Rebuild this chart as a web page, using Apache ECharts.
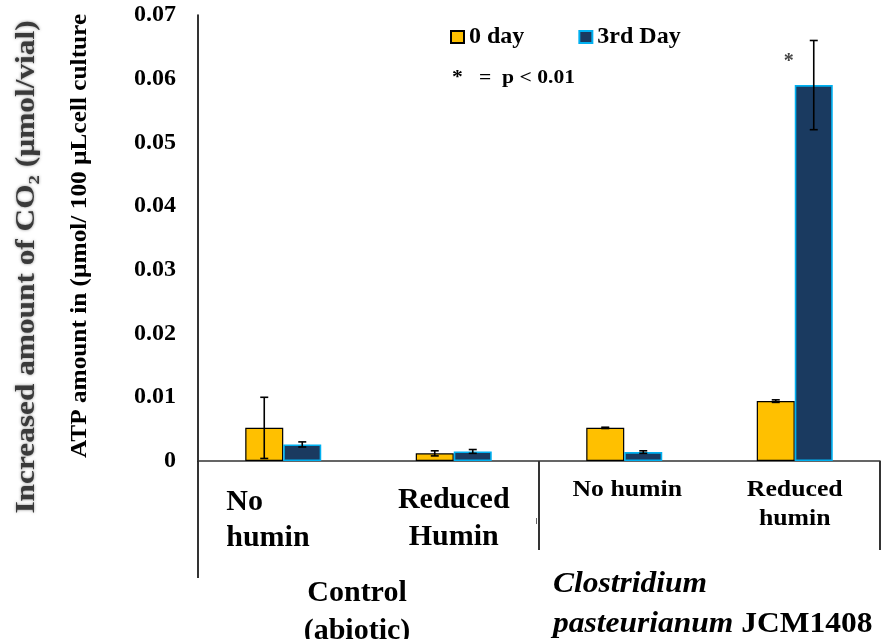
<!DOCTYPE html>
<html>
<head>
<meta charset="utf-8">
<script src="https://cdn.jsdelivr.net/npm/echarts@6/dist/echarts.min.js"></script>
<style>
  html, body { margin: 0; padding: 0; background: #ffffff; }
  #chart { width: 884px; height: 639px; }
</style>
</head>
<body>
<div id="chart"></div>
<script>
// Treatments along the x axis (two control, two inoculated)
const categories = ['No\nhumin', 'Reduced\nHumin', 'No humin', 'Reduced\nhumin'];
// Group captions beneath the treatment labels
const groupLabels = ['Control\n(abiotic)', '{i|Clostridium}\n{i|pasteurianum}{b| JCM1408}'];

// ATP amount (µmol / 100 µL cell culture)
const seriesNames = ['0 day', '3rd Day'];
const day0 = [0.0052, 0.0012, 0.0052, 0.0094];
const day0Err = [0.0048, 0.0004, 0.0001, 0.0002];
const day3 = [0.0026, 0.0015, 0.0014, 0.059];
const day3Err = [0.0004, 0.0003, 0.0002, 0.007];
const day3Sig = ['', '', '', '*'];

// Value axis ticks
const yTickLabels = ['0', '0.01', '0.02', '0.03', '0.04', '0.05', '0.06', '0.07'];

const SERIF = '"Liberation Serif", "Times New Roman", serif';
const BAR_W = 38;

const chart = echarts.init(document.getElementById('chart'), null, { renderer: 'canvas' });

function errorSeries(values, errs, marks, offsetSign) {
  return {
    type: 'custom',
    z: 5,
    silent: true,
    data: values.map((v, i) => [i, v, errs[i]]),
    renderItem: function (params, api) {
      const i = api.value(0);
      const v = api.value(1);
      const e = api.value(2);
      const hi = api.coord([i, v + e]);
      const lo = api.coord([i, Math.max(0, v - e)]);
      const x = hi[0] + offsetSign * BAR_W / 2;
      const cap = 4;
      const st = { stroke: '#000', lineWidth: 1.6 };
      const kids = [
        { type: 'line', shape: { x1: x, y1: hi[1], x2: x, y2: lo[1] }, style: st },
        { type: 'line', shape: { x1: x - cap, y1: hi[1], x2: x + cap, y2: hi[1] }, style: st },
        { type: 'line', shape: { x1: x - cap, y1: lo[1], x2: x + cap, y2: lo[1] }, style: st }
      ];
      const mark = marks ? marks[params.dataIndex] : '';
      if (mark) {
        kids.push({
          type: 'text',
          style: {
            x: x - 25, y: hi[1] + 21, text: mark,
            fill: '#444', font: 'bold 20px ' + SERIF,
            align: 'center', verticalAlign: 'middle'
          }
        });
      }
      return { type: 'group', children: kids };
    }
  };
}

chart.setOption({
  animation: false,
  backgroundColor: '#ffffff',
  grid: { left: 198, right: 4, top: 15, bottom: 178, containLabel: false },
  legend: {
    data: seriesNames,
    left: 450,
    top: 25,
    padding: 0,
    icon: 'rect',
    itemWidth: 13,
    itemHeight: 12,
    itemGap: 54,
    textStyle: { fontFamily: SERIF, fontWeight: 'bold', fontSize: 24, color: '#000' }
  },
  xAxis: {
    type: 'category',
    data: categories,
    axisLine: { lineStyle: { color: '#333', width: 1.6 } },
    axisTick: { show: false },
    axisLabel: { show: false },
    splitLine: { show: false }
  },
  yAxis: {
    type: 'value',
    min: 0,
    max: 0.07,
    interval: 0.01,
    axisLine: { show: true, lineStyle: { color: '#000', width: 1.6 } },
    axisTick: { show: false },
    splitLine: { show: false },
    axisLabel: {
      margin: 22,
      color: '#000',
      fontFamily: SERIF,
      fontWeight: 'bold',
      fontSize: 24,
      formatter: (v, idx) => yTickLabels[idx]
    }
  },
  series: [
    {
      name: seriesNames[0],
      type: 'bar',
      barWidth: BAR_W,
      barGap: '0%',
      data: day0,
      itemStyle: { color: '#FFC000', borderColor: '#000', borderWidth: 1.2 }
    },
    {
      name: seriesNames[1],
      type: 'bar',
      barWidth: BAR_W,
      barGap: '0%',
      data: day3,
      itemStyle: { color: '#1A3A60', borderColor: '#00B0F0', borderWidth: 1.6 }
    },
    errorSeries(day0, day0Err, null, -1),
    errorSeries(day3, day3Err, day3Sig, 1)
  ]
});

// Category table beneath the axis, laid out from the axis' own pixel positions
const cx = categories.map((_, i) => chart.convertToPixel({ xAxisIndex: 0 }, i));
const step = cx[1] - cx[0];
const leftEdge = cx[0] - step / 2;
const midEdge = cx[1] + step / 2;
const rightEdge = cx[3] + step / 2;
const baseY = chart.convertToPixel({ yAxisIndex: 0 }, 0);

const lineStyle = { stroke: '#000', lineWidth: 1.6 };
const graphics = [
  { type: 'line', shape: { x1: leftEdge, y1: baseY, x2: leftEdge, y2: baseY + 117 }, style: lineStyle },
  { type: 'line', shape: { x1: midEdge, y1: baseY, x2: midEdge, y2: baseY + 89 }, style: lineStyle },
  { type: 'line', shape: { x1: rightEdge, y1: baseY, x2: rightEdge, y2: baseY + 89 }, style: lineStyle },
  { type: 'line', shape: { x1: midEdge - 2.5, y1: baseY + 57, x2: midEdge - 2.5, y2: baseY + 63 }, style: { stroke: '#666', lineWidth: 1 } },

  // treatment labels
  { type: 'text', x: cx[0] - 57, y: baseY + 23,
    style: { text: categories[0], font: 'bold 30px ' + SERIF, lineHeight: 36, fill: '#000', align: 'left', verticalAlign: 'top' } },
  { type: 'text', x: cx[1], y: baseY + 20.5,
    style: { text: categories[1], font: 'bold 30px ' + SERIF, lineHeight: 37, fill: '#000', align: 'center', verticalAlign: 'top' } },
  { type: 'text', x: cx[2] + 3, y: baseY + 15, scaleX: 1.12,
    style: { text: categories[2], font: 'bold 23px ' + SERIF, lineHeight: 29, fill: '#000', align: 'center', verticalAlign: 'top' } },
  { type: 'text', x: cx[3], y: baseY + 15, scaleX: 1.12,
    style: { text: categories[3], font: 'bold 23px ' + SERIF, lineHeight: 29, fill: '#000', align: 'center', verticalAlign: 'top' } },

  // group captions
  { type: 'text', x: (leftEdge + midEdge) / 2 - 11.5, y: baseY + 113,
    style: { text: groupLabels[0], font: 'bold 30px ' + SERIF, lineHeight: 38, fill: '#000', align: 'center', verticalAlign: 'top' } },
  { type: 'text', x: midEdge + 14, y: baseY + 103, scaleX: 1.05,
    style: {
      text: groupLabels[1], align: 'left', verticalAlign: 'top', fill: '#000',
      rich: {
        i: { fontFamily: SERIF, fontWeight: 'bold', fontStyle: 'italic', fontSize: 30, lineHeight: 40, fill: '#000' },
        b: { fontFamily: SERIF, fontWeight: 'bold', fontSize: 30, lineHeight: 40, fill: '#000' }
      }
    } },

  // significance key
  { type: 'text', x: 452, y: 78, scaleX: 1.2,
    style: { text: '*   =  p < 0.01', font: 'bold 18px ' + SERIF, fill: '#000', align: 'left', verticalAlign: 'middle' } },

  // axis titles
  { type: 'text', x: 27, y: 267, rotation: Math.PI / 2, scaleX: 1.16,
    style: {
      text: 'Increased amount of CO\u2082 (\u00b5mol/vial)', font: 'bold 27px ' + SERIF,
      fill: '#3a3a3a', align: 'center', verticalAlign: 'middle',
      textShadowColor: 'rgba(60,60,60,0.6)', textShadowBlur: 3
    } },
  { type: 'text', x: 80, y: 236, rotation: Math.PI / 2, scaleX: 1.1,
    style: {
      text: 'ATP amount in (\u00b5mol/ 100 \u00b5Lcell culture', font: 'bold 23px ' + SERIF,
      fill: '#000', align: 'center', verticalAlign: 'middle'
    } }
];

chart.setOption({ graphic: graphics });
</script>
</body>
</html>
